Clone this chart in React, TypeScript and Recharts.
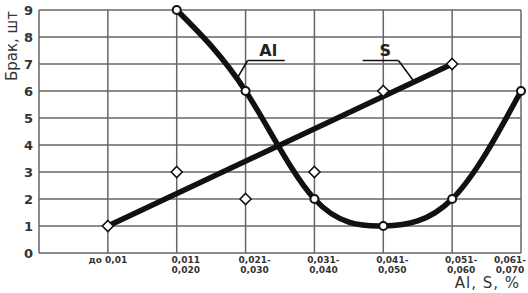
import React from 'react';
import {
  ComposedChart, Line, XAxis, YAxis, CartesianGrid, ReferenceLine, ReferenceDot
} from 'recharts';

// Содержание Al и S, %
const categories = [
  ['до 0,01'],
  ['0,011', '0,020'],
  ['0,021-', '0,030'],
  ['0,031-', '0,040'],
  ['0,041-', '0,050'],
  ['0,051-', '0,060'],
  ['0,061-', '0,070'],
];
// Брак, шт
const alValues = [null, 9, 6, 2, 1, 2, 6];
const sValues = [1, 3, 2, 3, 6, 7, null];
const sTrend = [1, null, null, null, null, 7, null];

const xTicks = [-1, 0, 1, 2, 3, 4, 5, 6];
const yTicks = [0, 1, 2, 3, 4, 5, 6, 7, 8, 9];

const rows = categories.map((c, i) => ({
  x: i,
  al: alValues[i],
  s: sValues[i],
  sFit: sTrend[i],
}));

const FONT = '"DejaVu Sans", Verdana, sans-serif';
const INK = '#222';
const GRID = '#666';

function XTick(props: any) {
  const { x, y, payload } = props;
  const i = payload.value;
  if (i < 0) return <g />;
  const lines = categories[i];
  const dx = i === 0 ? 0 : i === 6 ? -11 : 9;
  return (
    <text x={x + dx} y={y} textAnchor="middle" fontFamily={FONT} fontSize={9} fontWeight="bold" fill="#333">
      {lines.map((l, k) => (
        <tspan key={k} x={x + dx} dy={k === 0 ? 10 : 9.5}>{l}</tspan>
      ))}
    </text>
  );
}

function CircleDot(props: any) {
  const { cx, cy, index } = props;
  if (cx == null || cy == null) return <g key={`c${index}`} />;
  return <circle key={`c${index}`} cx={cx} cy={cy} r={4} fill="#fff" stroke="#111" strokeWidth={2} />;
}

function DiamondDot(props: any) {
  const { cx, cy, index } = props;
  if (cx == null || cy == null) return <g key={`d${index}`} />;
  const r = 5.5;
  return (
    <polygon
      key={`d${index}`}
      points={`${cx},${cy - r} ${cx + r},${cy} ${cx},${cy + r} ${cx - r},${cy}`}
      fill="#fff"
      stroke="#111"
      strokeWidth={1.6}
    />
  );
}

export default function App() {
  return (
    <div style={{ position: 'absolute', left: 0, top: 0, background: '#fff' }}>
      <ComposedChart width={528} height={293} data={rows} margin={{ top: 10, right: 7, bottom: 0, left: 0 }}>
        <CartesianGrid stroke={GRID} strokeWidth={1.5} />
        <XAxis
          dataKey="x"
          type="number"
          domain={[-1, 6]}
          ticks={xTicks}
          interval={0}
          height={40}
          axisLine={false}
          tickLine={false}
          tickSize={0}
          tickMargin={0}
          tick={<XTick />}
          label={{
            content: () => (
              <text x={520} y={288} textAnchor="end" fontFamily={FONT} fontSize={15} letterSpacing={1} fill="#333">
                Al, S, %
              </text>
            ),
          }}
        />
        <YAxis
          type="number"
          domain={[0, 9]}
          ticks={yTicks}
          interval={0}
          width={39}
          axisLine={false}
          tickLine={false}
          tickSize={0}
          tickMargin={6}
          tick={{ fontFamily: FONT, fontSize: 13, fontWeight: 'bold', fill: '#333' }}
          label={{
            content: () => (
              <text
                x={12}
                y={46}
                transform="rotate(-90, 12, 46)"
                textAnchor="middle"
                dominantBaseline="central"
                fontFamily={FONT}
                fontSize={15}
                fill="#333"
              >
                Брак, шт
              </text>
            ),
          }}
        />

        <ReferenceLine segment={[{ x: 1.88, y: 6.48 }, { x: 2.03, y: 7.13 }]} stroke="#111" strokeWidth={1.6} />
        <ReferenceLine segment={[{ x: 2.03, y: 7.13 }, { x: 2.57, y: 7.13 }]} stroke="#111" strokeWidth={1.6} />
        <ReferenceLine segment={[{ x: 3.7, y: 7.13 }, { x: 4.22, y: 7.13 }]} stroke="#111" strokeWidth={1.6} />
        <ReferenceLine segment={[{ x: 4.22, y: 7.13 }, { x: 4.43, y: 6.41 }]} stroke="#111" strokeWidth={1.6} />
        <ReferenceDot
          x={2.33}
          y={7.52}
          r={0}
          fill="none"
          stroke="none"
          label={{ value: 'Al', position: 'center', fontFamily: FONT, fontSize: 16, fontWeight: 'bold', fill: INK }}
        />
        <ReferenceDot
          x={4.03}
          y={7.52}
          r={0}
          fill="none"
          stroke="none"
          label={{ value: 'S', position: 'center', fontFamily: FONT, fontSize: 16, fontWeight: 'bold', fill: INK }}
        />

        <Line
          dataKey="sFit"
          type="linear"
          stroke="#111"
          strokeWidth={5.5}
          dot={false}
          activeDot={false}
          connectNulls
          isAnimationActive={false}
        />
        <Line
          dataKey="al"
          type="natural"
          stroke="#111"
          strokeWidth={5.5}
          dot={<CircleDot />}
          activeDot={false}
          connectNulls
          isAnimationActive={false}
        />
        <Line
          dataKey="s"
          stroke="none"
          dot={<DiamondDot />}
          activeDot={false}
          isAnimationActive={false}
        />
      </ComposedChart>
    </div>
  );
}
